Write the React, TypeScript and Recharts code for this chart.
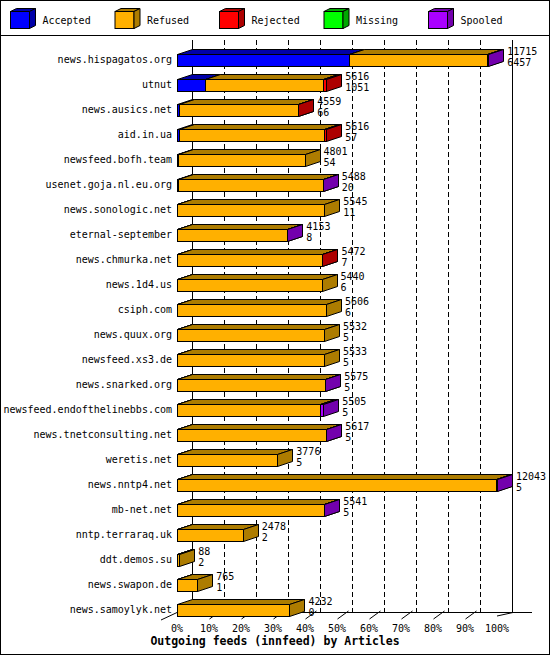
import React from 'react';
import { Bar, BarChart, LabelList, XAxis, YAxis } from 'recharts';

// innfeed outgoing feeds
const FEEDS = [
  'news.hispagatos.org',
  'utnut',
  'news.ausics.net',
  'aid.in.ua',
  'newsfeed.bofh.team',
  'usenet.goja.nl.eu.org',
  'news.sonologic.net',
  'eternal-september',
  'news.chmurka.net',
  'news.1d4.us',
  'csiph.com',
  'news.quux.org',
  'newsfeed.xs3.de',
  'news.snarked.org',
  'newsfeed.endofthelinebbs.com',
  'news.tnetconsulting.net',
  'weretis.net',
  'news.nntp4.net',
  'mb-net.net',
  'nntp.terraraq.uk',
  'ddt.demos.su',
  'news.swapon.de',
  'news.samoylyk.net',
];
const OFFERED = [11715, 5616, 4559, 5616, 4801, 5488, 5545, 4153, 5472, 5440, 5606, 5532, 5533, 5575, 5505, 5617, 3776, 12043, 5541, 2478, 88, 765, 4232];
const ACCEPTED = [6457, 1051, 66, 57, 54, 20, 11, 8, 7, 6, 6, 5, 5, 5, 5, 5, 5, 5, 5, 2, 2, 1, 0];
const REFUSED = [5218, 4445, 4481, 5459, 4747, 5456, 5534, 4130, 5453, 5434, 5600, 5527, 5528, 5555, 5380, 5592, 3771, 12018, 5521, 2476, 86, 764, 4232];
const REJECTED = [0, 120, 12, 100, 0, 0, 0, 0, 12, 0, 0, 0, 0, 0, 0, 0, 0, 0, 0, 0, 0, 0, 0];
const MISSING = [0, 0, 0, 0, 0, 0, 0, 0, 0, 0, 0, 0, 0, 0, 0, 0, 0, 0, 0, 0, 0, 0, 0];
const SPOOLED = [40, 0, 0, 0, 0, 12, 0, 15, 0, 0, 0, 0, 0, 15, 120, 20, 0, 20, 15, 0, 0, 0, 0];

const SCALE_MAX = 12043; // longest feed = 100%
const PCT_LABELS = ['0%', '10%', '20%', '30%', '40%', '50%', '60%', '70%', '80%', '90%', '100%'];

const SERIES = [
  { key: 'accepted', name: 'Accepted', values: ACCEPTED, front: '#0000ff', dark: '#0000a8' },
  { key: 'refused', name: 'Refused', values: REFUSED, front: '#ffb000', dark: '#ad7c00' },
  { key: 'rejected', name: 'Rejected', values: REJECTED, front: '#ff0000', dark: '#ad0000' },
  { key: 'missing', name: 'Missing', values: MISSING, front: '#00ff00', dark: '#00a800' },
  { key: 'spooled', name: 'Spooled', values: SPOOLED, front: '#aa00ff', dark: '#7300ad' },
];

const FONT = "'DejaVu Sans Mono', monospace";
const W = 550;
const H = 655;
const PLOT_LEFT = 177;
const PLOT_RIGHT = 497;
const PLOT_TOP = 46.5;
const PLOT_BOTTOM = 621.5;
const DX = 15; // 3d depth
const DY = 5;
const WALL_TOP = 40;
const FLOOR_Y = 612.5;

const rows = FEEDS.map((feed, i) => {
  const row: Record<string, string | number> = { feed, offered: OFFERED[i] };
  SERIES.forEach((s) => {
    row[s.key] = s.values[i];
  });
  return row;
});

const xTicks = PCT_LABELS.map((_, i) => (SCALE_MAX * i) / 10);

function Box3D(props: any) {
  const { x, y, width, height, index, front, dark, values } = props;
  if (!(values[index] > 0)) return null;
  const x0 = Math.round(x) + 0.5;
  const x1 = Math.round(x + width) + 0.5;
  const y0 = Math.round(y) + 0.5;
  const y1 = Math.round(y + height) + 0.5;
  return (
    <g stroke="#000" strokeWidth={1} strokeLinejoin="miter">
      <rect x={x0} y={y0} width={Math.max(0, x1 - x0)} height={y1 - y0} fill={front} />
      <polygon points={`${x0},${y0} ${x0 + DX},${y0 - DY} ${x1 + DX},${y0 - DY} ${x1},${y0}`} fill={dark} />
      <polygon points={`${x1},${y0} ${x1 + DX},${y0 - DY} ${x1 + DX},${y1 - DY} ${x1},${y1}`} fill={dark} />
    </g>
  );
}

function EndLabel(props: any) {
  const vb = props.viewBox ?? props;
  const { index } = props;
  const x = vb.x + vb.width + DX + 4;
  const cy = vb.y + vb.height / 2;
  return (
    <g fontFamily={FONT} fontSize={10} fill="#000">
      <text x={x} y={cy - 5}>{OFFERED[index]}</text>
      <text x={x} y={cy + 6}>{ACCEPTED[index]}</text>
    </g>
  );
}

function Backdrop() {
  const step = (PLOT_RIGHT - PLOT_LEFT) / 10;
  return (
    <svg width={W} height={H} style={{ position: 'absolute', left: 0, top: 0 }}>
      <rect x={0} y={0} width={W} height={H} fill="#fff" />
      <rect x={0.5} y={0.5} width={W - 1} height={H - 1} fill="none" stroke="#000" />
      <line x1={0} x2={W} y1={35.5} y2={35.5} stroke="#000" />

      {SERIES.map((s, i) => {
        const bx = 10.5 + i * 104.5;
        const by = 11.5;
        const bw = 19;
        const bh = 17;
        const d = 6;
        const e = 3;
        return (
          <g key={s.key}>
            <g stroke="#000">
              <rect x={bx} y={by} width={bw} height={bh} fill={s.front} />
              <polygon points={`${bx},${by} ${bx + d},${by - e} ${bx + bw + d},${by - e} ${bx + bw},${by}`} fill={s.dark} />
              <polygon points={`${bx + bw},${by} ${bx + bw + d},${by - e} ${bx + bw + d},${by + bh - e} ${bx + bw},${by + bh}`} fill={s.dark} />
            </g>
            <text x={bx + 32} y={24} fontFamily={FONT} fontSize={10} fill="#000">
              {s.name}
            </text>
          </g>
        );
      })}

      {PCT_LABELS.map((p, i) => {
        const gx = Math.round(PLOT_LEFT + DX + i * step) + 0.5;
        const solid = i === 0 || i === 10;
        return (
          <line
            key={p}
            x1={gx}
            x2={gx}
            y1={WALL_TOP}
            y2={FLOOR_Y}
            stroke="#000"
            strokeDasharray={solid ? undefined : '5 3'}
          />
        );
      })}

      <line x1={PLOT_LEFT} x2={532} y1={FLOOR_Y} y2={FLOOR_Y} stroke="#000" />
      <line x1={161} y1={620} x2={PLOT_LEFT} y2={FLOOR_Y} stroke="#000" />
      <line x1={PLOT_RIGHT} y1={616} x2={PLOT_RIGHT + DX + 1} y2={FLOOR_Y} stroke="#000" />
      {PCT_LABELS.slice(1, 10).map((p, i) => {
        const fx = Math.round(PLOT_LEFT + (i + 1) * step) + 0.5;
        return <line key={p} x1={fx} y1={619} x2={fx + 11} y2={611} stroke="#000" />;
      })}

      <text
        x={W / 2}
        y={645}
        textAnchor="middle"
        fontFamily={FONT}
        fontSize={11.5}
        fontWeight="bold"
        fill="#000"
      >
        Outgoing feeds (innfeed) by Articles
      </text>
    </svg>
  );
}

export default function App() {
  return (
    <div style={{ position: 'absolute', left: 0, top: 0, width: W, height: H }}>
      <Backdrop />
      <div style={{ position: 'absolute', left: 0, top: 0 }}>
        <BarChart
          width={W}
          height={H}
          data={rows}
          layout="vertical"
          margin={{ top: PLOT_TOP, right: W - PLOT_RIGHT, bottom: 0, left: 0 }}
          barSize={12}
        >
          <XAxis
            type="number"
            domain={[0, SCALE_MAX]}
            ticks={xTicks}
            tickFormatter={(v: number) => PCT_LABELS[Math.round((v / SCALE_MAX) * 10)]}
            height={H - PLOT_BOTTOM}
            axisLine={false}
            tickLine={false}
            tickSize={0}
            tickMargin={3}
            interval={0}
            tick={{ fontSize: 10, fill: '#000', fontFamily: FONT }}
          />
          <YAxis
            type="category"
            dataKey="feed"
            width={PLOT_LEFT}
            axisLine={false}
            tickLine={false}
            tickSize={0}
            tickMargin={5}
            interval={0}
            tick={{ fontSize: 10, fill: '#000', fontFamily: FONT }}
          />
          {SERIES.map((s, si) => (
            <Bar
              key={s.key}
              dataKey={s.key}
              name={s.name}
              stackId="feed"
              fill={s.front}
              isAnimationActive={false}
              shape={(p: any) => <Box3D {...p} front={s.front} dark={s.dark} values={s.values} />}
            >
              {si === SERIES.length - 1 && <LabelList dataKey="offered" content={EndLabel} />}
            </Bar>
          ))}
        </BarChart>
      </div>
    </div>
  );
}
